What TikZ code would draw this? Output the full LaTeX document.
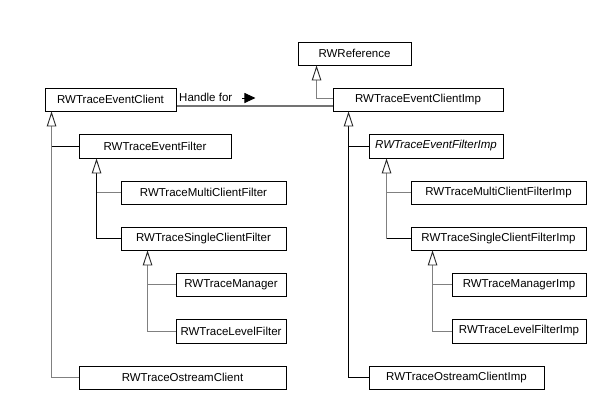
\documentclass[tikz,border=0pt]{standalone}
\usepackage{fontspec}
\setmainfont{Liberation Sans}
\usetikzlibrary{arrows.meta,calc}
\begin{document}
\begin{tikzpicture}[x=1pt,y=-1pt,
  box/.style={draw=black,line width=0.9pt,inner sep=0pt,minimum height=23pt,font=\fontsize{11.5}{13}\selectfont},
  gl/.style={draw=black!50,line width=1pt},
  bl/.style={draw=black,line width=0.9pt},
  inh/.style={-{Triangle[open,length=15pt,width=9.5pt,line width=0.9pt,color=black!85,fill=white]}},
]
\useasboundingbox (0,0) rectangle (599,408);
% nodes
\node[box,minimum width=131pt] (ec) at (110.5,99.5) {RWTraceEventClient};
\node[box,minimum width=113pt] (ref) at (354.5,53.5) {RWReference};
\node[box,minimum width=170pt] (eci) at (418,99.5) {RWTraceEventClientImp};
\node[box,minimum width=152pt,minimum height=24pt] (ef) at (155,146) {RWTraceEventFilter};
\node[box,minimum width=134pt,minimum height=24pt] (efi) at (436,146) {\itshape RWTraceEventFilterImp};
\node[box,minimum width=165pt] (mcf) at (203.5,192.5) {RWTraceMultiClientFilter};
\node[box,minimum width=165pt] (scf) at (203.5,238.5) {RWTraceSingleClientFilter};
\node[box,minimum width=110pt] (mgr) at (231,284.5) {RWTraceManager};
\node[box,minimum width=110pt,minimum height=24pt] (lvl) at (231,331) {RWTraceLevelFilter};
\node[box,minimum width=207pt] (osc) at (182.5,377.5) {RWTraceOstreamClient};
\node[box,minimum width=175pt] (mcfi) at (498.5,192.5) {RWTraceMultiClientFilterImp};
\node[box,minimum width=175pt] (scfi) at (498.5,238.5) {RWTraceSingleClientFilterImp};
\node[box,minimum width=134pt] (mgri) at (519,284.5) {RWTraceManagerImp};
\node[box,minimum width=134pt,minimum height=24pt] (lvli) at (519,331) {RWTraceLevelFilterImp};
\node[box,minimum width=175pt] (osci) at (456.5,377.5) {RWTraceOstreamClientImp};
% trunk columns
\coordinate (c1) at ($(ec.south west)+(7,0)$);
\coordinate (c2) at ($(ef.south west)+(18,0)$);
\coordinate (c3) at ($(scf.south west)+(27,0)$);
\coordinate (c4) at ($(eci.south west)+(16,0)$);
\coordinate (c5) at ($(efi.south west)+(18,0)$);
\coordinate (c6) at ($(scfi.south west)+(22,0)$);
\coordinate (c7) at ($(ref.south west)+(19,0)$);
% left hierarchy
\draw[gl,inh] (osc.west) -| (c1);
\draw[bl] (ef.west) -- (ef.west -| c1);
\draw[bl,inh] (scf.west) -| (c2);
\draw[gl] (mcf.west) -- (mcf.west -| c2);
\draw[gl,inh] (lvl.west) -| (c3);
\draw[gl] (mgr.west) -- (mgr.west -| c3);
% right hierarchy
\draw[bl,inh] (osci.west) -| (c4);
\draw[bl] (efi.west) -- (efi.west -| c4);
\draw[gl,inh] (scfi.west -| c5) -- (c5);
\draw[bl] (scfi.west) -- (scfi.west -| c5);
\draw[gl] (mcfi.west) -- (mcfi.west -| c5);
\draw[gl,inh] (lvli.west) -| (c6);
\draw[gl] (mgri.west) -- (mgri.west -| c6);
\draw[gl,inh] ($(eci.west)+(0,-1.5)$) -| (c7);
% handle association
\draw[draw=black!55,line width=1.3pt] ($(ec.east)+(1,6.5)$) -- ($(eci.west)+(0,6.5)$);
\node[anchor=base west,inner sep=0pt,font=\fontsize{11.5}{13}\selectfont] (hl) at (179,101) {Handle for};
\draw[line width=1pt,-{Triangle[length=11pt,width=10pt]}] ($(hl.base east)+(10,-3)$) -- ($(hl.base east)+(23,-3)$);
\end{tikzpicture}
\end{document}
